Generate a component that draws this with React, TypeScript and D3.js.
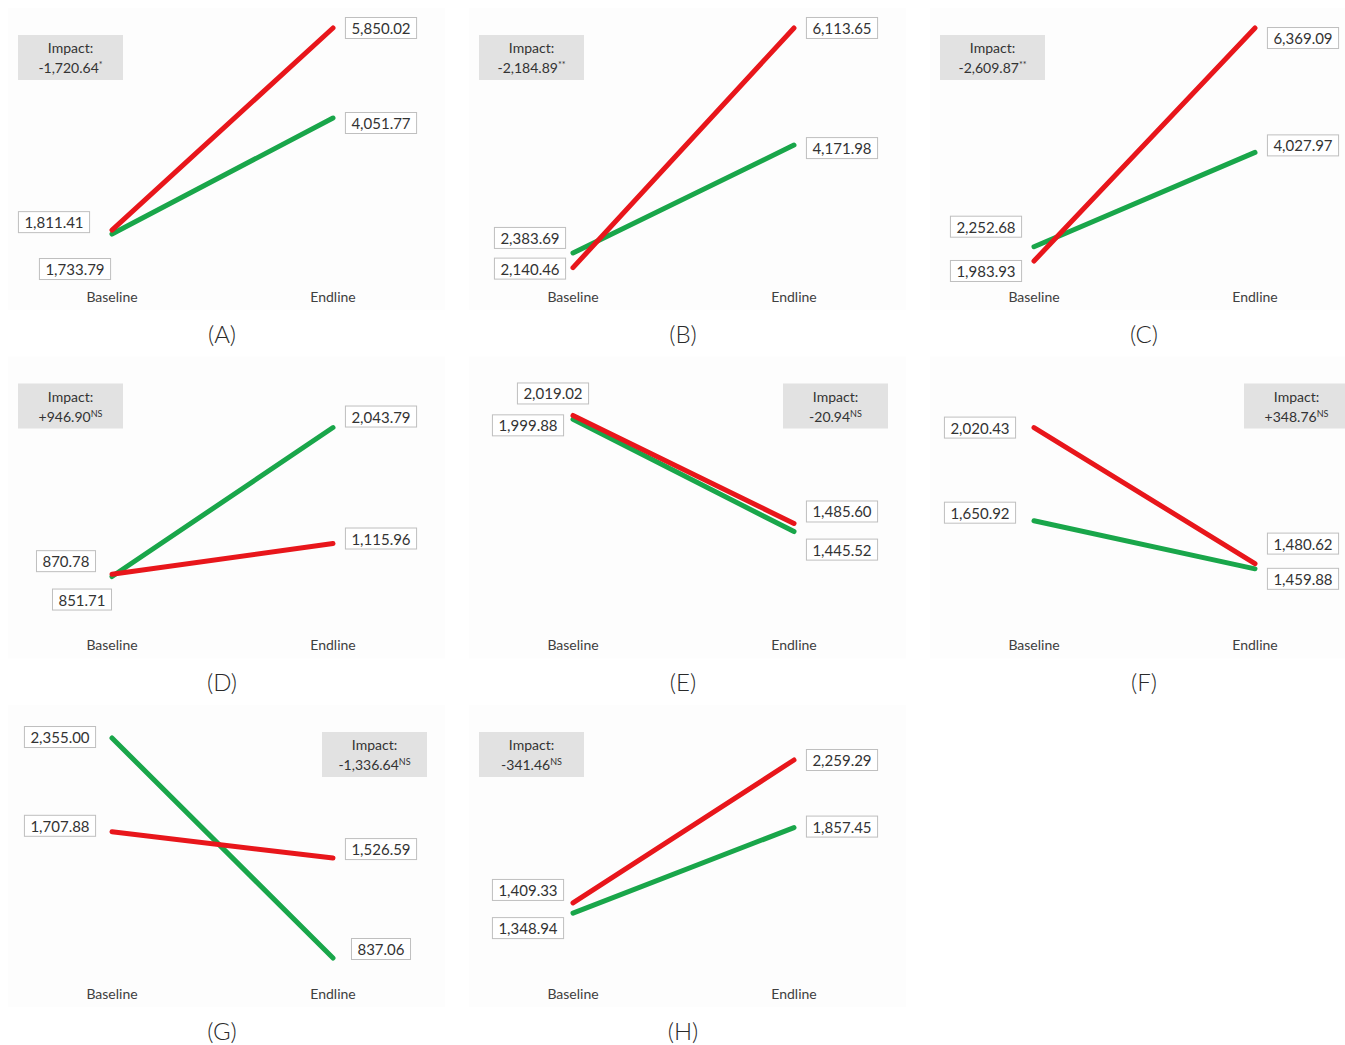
import React, { useEffect, useRef } from 'react';
import * as d3 from 'd3';

// ---- data ----
const panelLetters = ['A', 'B', 'C', 'D', 'E', 'F', 'G', 'H'];
const periods = ['Baseline', 'Endline'];
const redBaseline = [1811.41, 2140.46, 1983.93, 870.78, 2019.02, 2020.43, 1707.88, 1409.33];
const redEndline = [5850.02, 6113.65, 6369.09, 1115.96, 1485.6, 1480.62, 1526.59, 2259.29];
const greenBaseline = [1733.79, 2383.69, 2252.68, 851.71, 1999.88, 1650.92, 2355.0, 1348.94];
const greenEndline = [4051.77, 4171.98, 4027.97, 2043.79, 1445.52, 1459.88, 837.06, 1857.45];
const impactValues = ['-1,720.64', '-2,184.89', '-2,609.87', '+946.90', '-20.94', '+348.76', '-1,336.64', '-341.46'];
const impactSignificance = ['*', '**', '**', 'NS', 'NS', 'NS', 'NS', 'NS'];
// per-panel value axis extents (hidden axes)
const axisMin = [815, 1935, 1626, 436, 967, 1223, 706, 969];
const axisMax = [6010, 6246, 6520, 2516, 2251, 2255, 2500, 2515];

// ---- layout ----
const W = 1345;
const H = 1045;
const colX = [0, 461, 922];
const rowY = [0, 348.5, 697];
const impactSide = ['left', 'left', 'left', 'left', 'right', 'right', 'right', 'left'];
const redBaseDy = [-8, 1, 10, -13, -22, 0, -6, -13];
const greenBaseDy = [35, -15, -20, 23, 6, -8, -1, 15];
const redEndDy = [0, 0, 10, -5, -12, -20, -9, 0];
const greenEndDy = [5, 3, -7, -11, 18, 10, -9, -1];
const redBaseCx = [54, 69, 64, 66, 92, 58, 60, 67];
const greenBaseCx = [75, 69, 64, 82, 67, 58, 60, 67];

const RED = '#e8161b';
const GREEN = '#19a64a';
const FONT = 'Lato, "Open Sans", sans-serif';

export default function App() {
  const ref = useRef<SVGSVGElement | null>(null);

  useEffect(() => {
    const svg = d3.select(ref.current);
    svg.selectAll('*').remove();
    const fmt = d3.format(',.2f');

    panelLetters.forEach((letter, i) => {
      const ox = colX[i % 3];
      const oy = rowY[Math.floor(i / 3)];
      const g = svg.append('g').attr('transform', `translate(${ox},${oy})`);

      g.append('rect')
        .attr('x', 8).attr('y', 8).attr('width', 437).attr('height', 302)
        .attr('fill', '#fdfdfd');

      const x = d3.scalePoint<string>().domain(periods).range([112, 333]);
      const y = d3.scaleLinear().domain([axisMin[i], axisMax[i]]).range([280, 20]);

      const series = [
        { color: GREEN, vals: [greenBaseline[i], greenEndline[i]], baseDy: greenBaseDy[i], endDy: greenEndDy[i], baseCx: greenBaseCx[i] },
        { color: RED, vals: [redBaseline[i], redEndline[i]], baseDy: redBaseDy[i], endDy: redEndDy[i], baseCx: redBaseCx[i] },
      ];

      const line = d3.line<number>()
        .x((_, k) => x(periods[k]) as number)
        .y((v) => y(v));

      series.forEach((s) => {
        g.append('path')
          .attr('d', line(s.vals))
          .attr('fill', 'none')
          .attr('stroke', s.color)
          .attr('stroke-width', 5)
          .attr('stroke-linecap', 'round');
      });

      // value labels
      const addLabel = (cx: number, cy: number, txt: string) => {
        const lg = g.append('g');
        const rect = lg.append('rect');
        const t = lg.append('text')
          .attr('x', cx).attr('y', cy)
          .attr('text-anchor', 'middle')
          .attr('dominant-baseline', 'central')
          .attr('font-family', FONT)
          .attr('font-size', 15)
          .attr('fill', '#333333')
          .text(txt);
        const tw = (t.node() as SVGTextElement).getComputedTextLength();
        const bw = tw + 12;
        rect.attr('x', cx - bw / 2).attr('y', cy - 10.5)
          .attr('width', bw).attr('height', 21)
          .attr('fill', '#ffffff').attr('stroke', '#bfbfbf').attr('stroke-width', 1);
      };

      series.forEach((s) => {
        addLabel(s.baseCx, y(s.vals[0]) + s.baseDy, fmt(s.vals[0]));
        addLabel((x('Endline') as number) + 48, y(s.vals[1]) + s.endDy, fmt(s.vals[1]));
      });

      // category labels
      periods.forEach((p) => {
        g.append('text')
          .attr('x', x(p) as number).attr('y', 296)
          .attr('text-anchor', 'middle')
          .attr('dominant-baseline', 'central')
          .attr('font-family', FONT)
          .attr('font-size', 14)
          .attr('fill', '#404040')
          .text(p);
      });

      // impact box
      const bx = impactSide[i] === 'left' ? 18 : 322;
      g.append('rect')
        .attr('x', bx).attr('y', 35).attr('width', 105).attr('height', 45)
        .attr('fill', '#e2e2e2');
      g.append('text')
        .attr('x', bx + 52.5).attr('y', 53)
        .attr('text-anchor', 'middle')
        .attr('font-family', FONT).attr('font-size', 14).attr('fill', '#333333')
        .text('Impact:');
      const t2 = g.append('text')
        .attr('x', bx + 52.5).attr('y', 73)
        .attr('text-anchor', 'middle')
        .attr('font-family', FONT).attr('font-size', 14).attr('fill', '#333333');
      t2.append('tspan').text(impactValues[i]);
      t2.append('tspan').attr('dy', -5).attr('font-size', 9).text(impactSignificance[i]);

      // panel caption
      g.append('text')
        .attr('x', 222).attr('y', 333)
        .attr('text-anchor', 'middle')
        .attr('dominant-baseline', 'central')
        .attr('font-family', FONT)
        .attr('font-weight', 300)
        .attr('font-size', 24)
        .attr('fill', '#2a2a2a')
        .text(`(${letter})`);
    });
  }, []);

  return (
    <svg
      ref={ref}
      width={W}
      height={H}
      viewBox={`0 0 ${W} ${H}`}
      style={{ position: 'absolute', left: 0, top: 0, background: '#ffffff' }}
    />
  );
}
